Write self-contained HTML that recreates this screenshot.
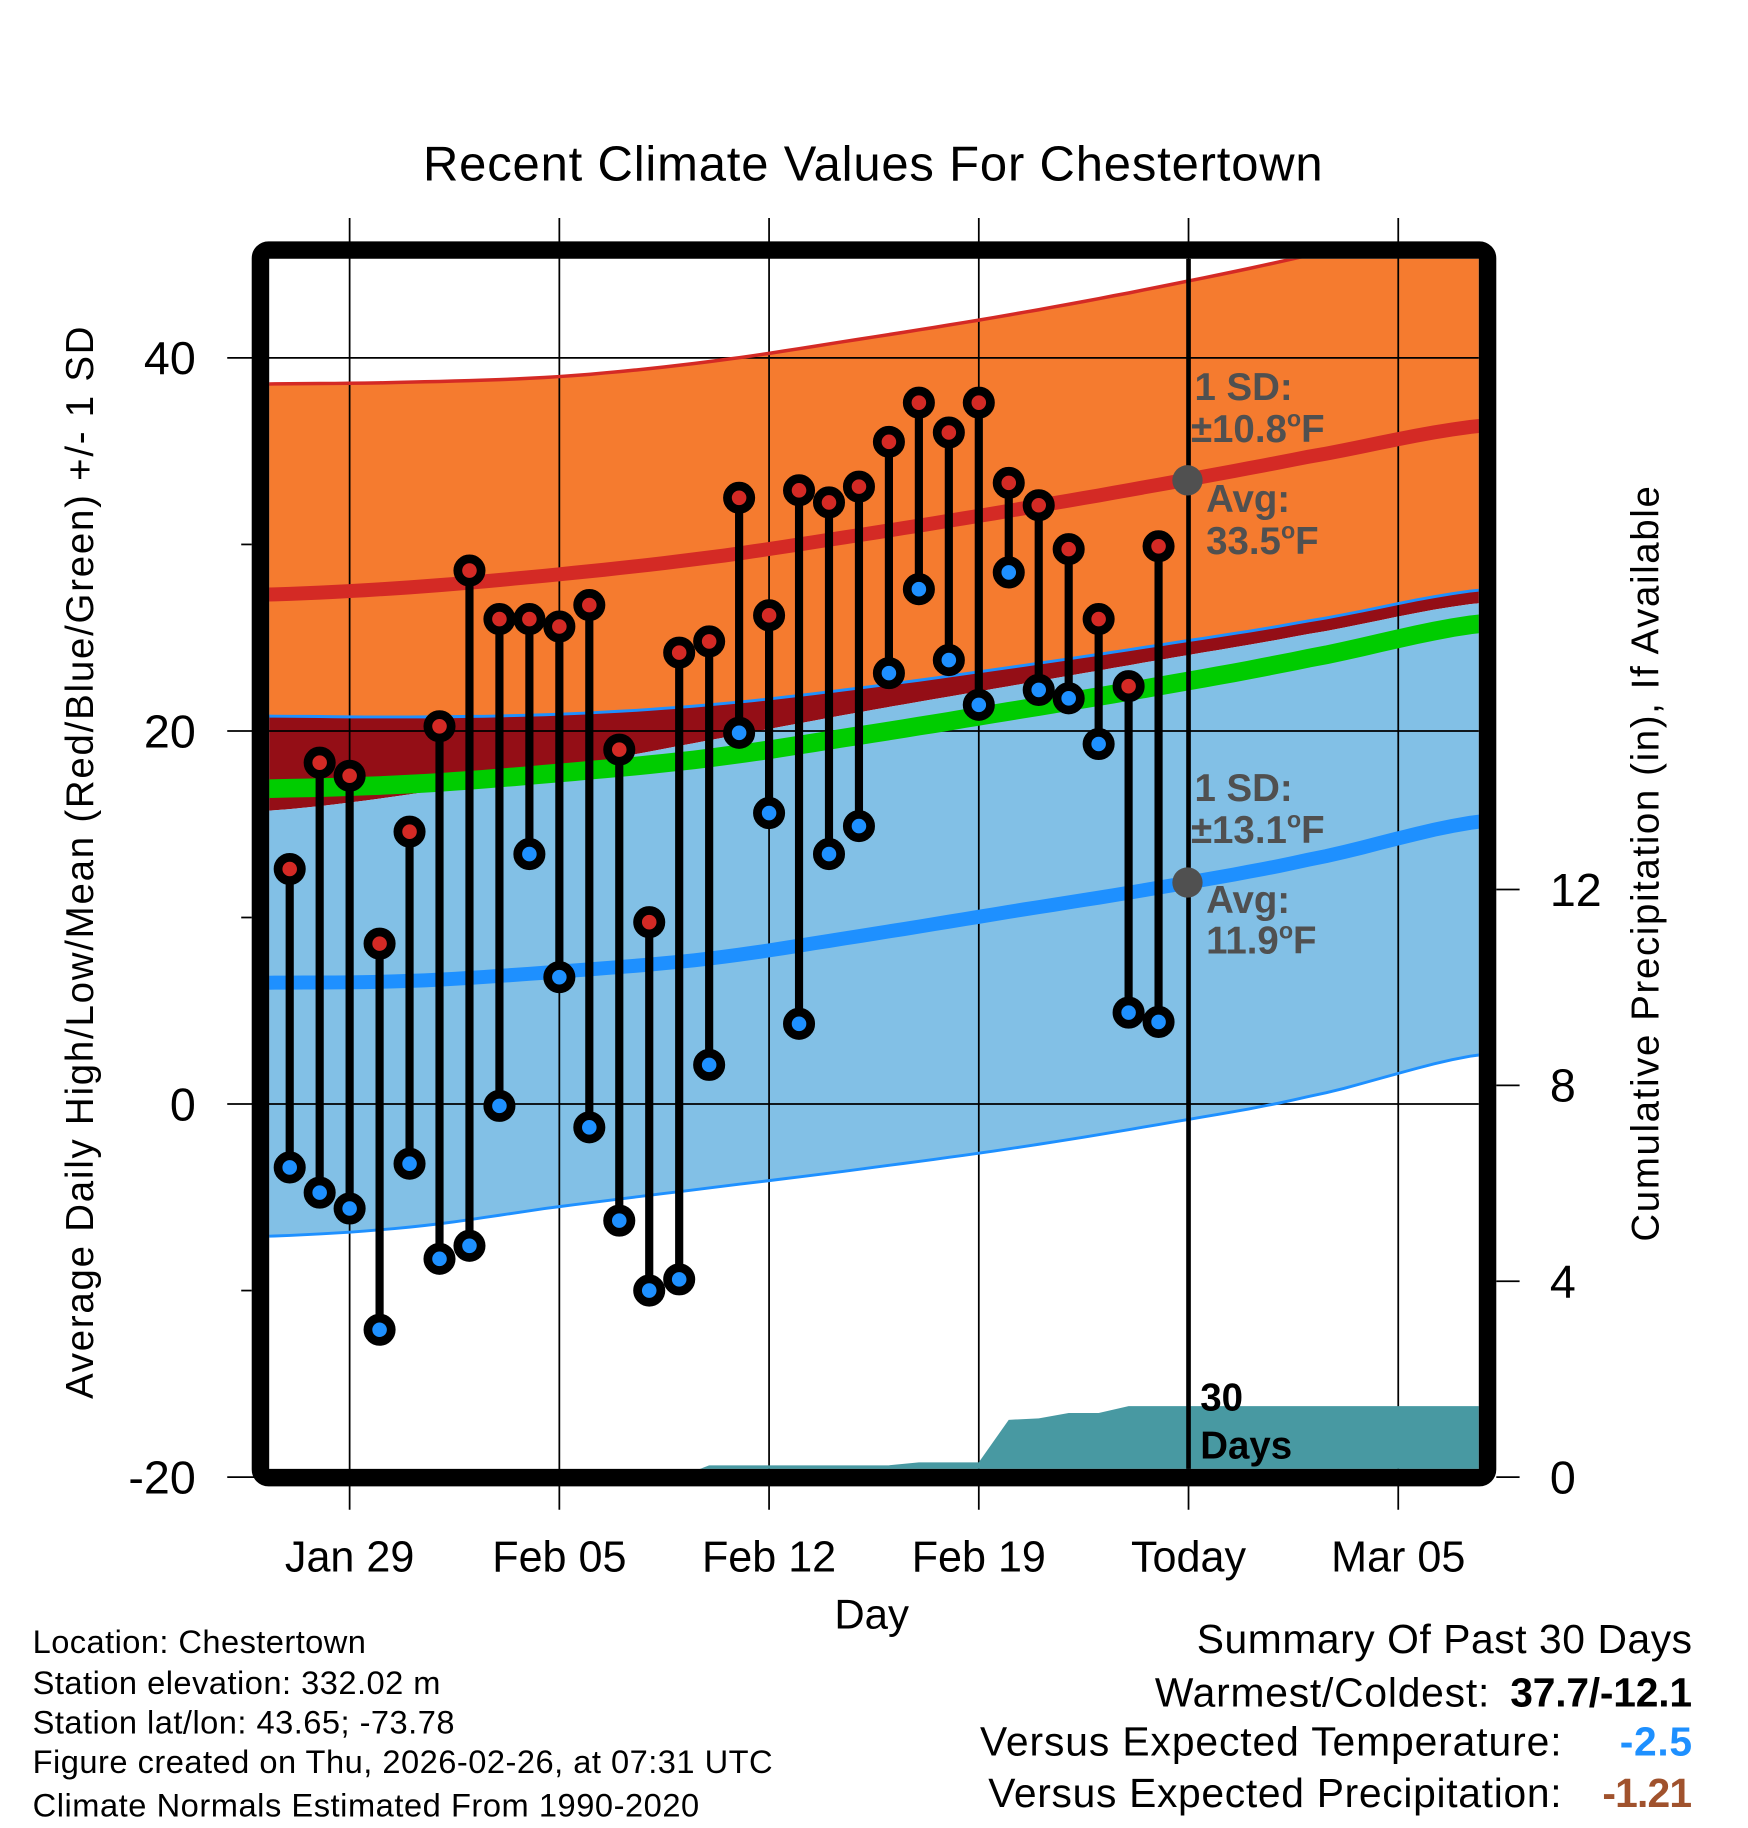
<!DOCTYPE html>
<html><head><meta charset="utf-8"><style>
html,body{margin:0;padding:0;background:#fff;}
svg{display:block;font-family:"Liberation Sans",Arial,sans-serif;}
</style></head><body>
<svg id="chart" width="1748" height="1828" viewBox="0 0 1500 1568" preserveAspectRatio="none" xmlns="http://www.w3.org/2000/svg">
<defs><clipPath id="plotclip"><rect x="231" y="222" width="1038" height="1038"/></clipPath></defs>
<rect width="1500" height="1568" fill="#fff"/>
<text x="749" y="155" font-size="42" text-anchor="middle" textLength="772">Recent Climate Values For Chestertown</text>
<g id="bands" clip-path="url(#plotclip)"></g>
<g id="grid"></g>
<g id="lines" clip-path="url(#plotclip)"></g>
<g id="precip" clip-path="url(#plotclip)"></g>
<g id="marks"></g>
<g id="annot" font-weight="bold" fill="#505050" font-size="33">
<text x="1025" y="343">1 SD:</text>
<text x="1022" y="379">±10.8<tspan font-size="20" dy="-13">o</tspan><tspan dy="13">F</tspan></text>
<circle cx="1019" cy="412" r="13" fill="#505050"/>
<text x="1035" y="439">Avg:</text>
<text x="1035" y="475">33.5<tspan font-size="20" dy="-13">o</tspan><tspan dy="13">F</tspan></text>
<text x="1025" y="687">1 SD:</text>
<text x="1022" y="723">±13.1<tspan font-size="20" dy="-13">o</tspan><tspan dy="13">F</tspan></text>
<circle cx="1019" cy="757" r="13" fill="#505050"/>
<text x="1035" y="783">Avg:</text>
<text x="1035" y="818">11.9<tspan font-size="20" dy="-13">o</tspan><tspan dy="13">F</tspan></text>
</g>
<g font-weight="bold" font-size="33" fill="#000">
<text x="1030" y="1210">30</text>
<text x="1030" y="1251">Days</text>
</g>
<rect x="223.5" y="214.5" width="1053" height="1053" rx="7" fill="none" stroke="#000" stroke-width="15"/>
<g id="axes" font-size="40"></g>
<text transform="translate(80,740) rotate(-90)" font-size="33" text-anchor="middle" textLength="920">Average Daily High/Low/Mean (Red/Blue/Green) +/- 1 SD</text>
<text transform="translate(1423,741) rotate(-90)" font-size="33" text-anchor="middle" textLength="648">Cumulative Precipitation (in), If Available</text>
<text x="748" y="1397" font-size="36" text-anchor="middle">Day</text>
<g font-size="28">
<text x="28" y="1418" textLength="286">Location: Chestertown</text>
<text x="28" y="1453" textLength="350">Station elevation: 332.02 m</text>
<text x="28" y="1487" textLength="362">Station lat/lon: 43.65; -73.78</text>
<text x="28" y="1521" textLength="635">Figure created on Thu, 2026-02-26, at 07:31 UTC</text>
<text x="28" y="1558" textLength="572">Climate Normals Estimated From 1990-2020</text>
</g>
<g font-size="35">
<text x="1027" y="1418" textLength="425">Summary Of Past 30 Days</text>
<text x="991" y="1464" textLength="287">Warmest/Coldest:</text>
<text x="1296" y="1464" font-weight="bold" textLength="156">37.7/-12.1</text>
<text x="841" y="1506" textLength="499">Versus Expected Temperature:</text>
<text x="1390" y="1506" font-weight="bold" fill="#1e90ff" textLength="62">-2.5</text>
<text x="848" y="1550" textLength="492">Versus Expected Precipitation:</text>
<text x="1375" y="1550" font-weight="bold" fill="#a0522d" textLength="77">-1.21</text>
</g>
</svg>
<script>
// daily observations (day index 0 = Jan 27)
const highs = [12.6,18.3,17.6,8.6,14.6,20.25,28.6,26,26,25.6,26.75,19,9.75,24.2,24.8,32.5,26.2,32.9,32.25,33.1,35.5,37.6,36,37.6,33.3,32.1,29.75,26,22.4,29.9];
const lows = [-3.4,-4.75,-5.6,-12.1,-3.2,-8.3,-7.6,-0.1,13.4,6.8,-1.25,-6.25,-10,-9.4,2.1,19.9,15.6,4.3,13.4,14.9,23.1,27.6,23.8,21.4,28.5,22.2,21.75,19.3,4.9,4.4];
const precip = [0,0,0,0,0,0,0,0,0,0,0,0,0,0,0.24,0.24,0.24,0.24,0.24,0.24,0.24,0.3,0.3,0.3,1.17,1.2,1.31,1.31,1.45,1.45];
// climate normals sampled on these day indices
const normDays = [-1,4,9,14,19,24,29,34,40];
const upperSD = [38.6,38.7,39.0,39.8,41.0,42.3,43.8,45.5,47.5];
const avgHigh = [27.3,27.7,28.4,29.3,30.5,31.8,33.2,34.7,36.4];
const highBandBottom = [20.8,20.75,20.9,21.4,22.3,23.4,24.6,25.9,27.6];
const lowBandTop = [15.7,16.6,18.0,19.5,21.0,22.4,23.8,25.2,26.9];
const meanTemp = [16.9,17.15,17.75,18.55,19.75,21.05,22.4,23.9,25.8];
const avgLow = [6.5,6.6,7.1,7.8,9.0,10.3,11.6,13.1,15.2];
const lowSD = [-7.1,-6.6,-5.5,-4.5,-3.5,-2.4,-1.1,0.4,2.7];
const yTicks = [40,20,0,-20];
const yMinor = [30,10,-10];
const pTicks = [0,4,8,12];
const xTickDays = [2,9,16,23,30,37];
const xTickLabels = ["Jan 29","Feb 05","Feb 12","Feb 19","Today","Mar 05"];

const NS="http://www.w3.org/2000/svg";
const X = d => 248.6 + 25.71*d;
const Y = v => 947 - 16*v;
const P = p => 1267 - 42*p;
function mk(tag, attrs, parent){const e=document.createElementNS(NS,tag);for(const k in attrs)e.setAttribute(k,attrs[k]);parent.appendChild(e);return e;}
function curve(arr){
  const n=normDays.length, pts=[];
  for(let i=0;i<n-1;i++){
    const p0=arr[Math.max(i-1,0)],p1=arr[i],p2=arr[i+1],p3=arr[Math.min(i+2,n-1)];
    for(let s=0;s<10;s++){
      const t=s/10;
      const v=0.5*((2*p1)+(-p0+p2)*t+(2*p0-5*p1+4*p2-p3)*t*t+(-p0+3*p1-3*p2+p3)*t*t*t);
      const d=normDays[i]+(normDays[i+1]-normDays[i])*t;
      pts.push([X(d),Y(v)]);
    }
  }
  pts.push([X(normDays[n-1]),Y(arr[n-1])]);
  return pts;
}
function ptsStr(p){return p.map(q=>q[0].toFixed(1)+","+q[1].toFixed(1)).join(" ");}
function band(top,bot,fill,name,parent){
  const p=curve(top).concat(curve(bot).reverse());
  const e=mk('polygon',{points:ptsStr(p),fill:fill},parent);
  
  
}
function line(arr,color,w,name,parent){
  const e=mk('polyline',{points:ptsStr(curve(arr)),fill:'none',stroke:color,'stroke-width':w},parent);
  
  
}
const gB=document.getElementById('bands');
band(upperSD,highBandBottom,'#f57b2f','high-sd-band',gB);
band(highBandBottom,lowBandTop,'#940e16','overlap-band',gB);
band(lowBandTop,lowSD,'#82c0e6','low-sd-band',gB);
const gG=document.getElementById('grid');
yTicks.forEach(v=>{
  const e=mk('line',{x1:195,x2:1269,y1:Y(v),y2:Y(v),stroke:'#000','stroke-width':1.5},gG);
  
  
});
yMinor.forEach(v=>{
  const e=mk('line',{x1:207,x2:216,y1:Y(v),y2:Y(v),stroke:'#000','stroke-width':1.5},gG);
  
  
});
xTickDays.forEach((d,i)=>{
  const e=mk('line',{x1:X(d),x2:X(d),y1:187,y2:1295,stroke:'#000','stroke-width':1.5},gG);
  
  
});
pTicks.forEach(p=>{
  const e=mk('line',{x1:1284,x2:1304,y1:P(p),y2:P(p),stroke:'#000','stroke-width':1.5},gG);
  
  
});
const gL=document.getElementById('lines');
line(upperSD,'#d42a25',3,'high-upper-sd-line',gL);
line(highBandBottom,'#1e90ff',2.5,'low-upper-sd-line',gL);
line(meanTemp,'#00cc00',16,'mean-line',gL);
line(avgHigh,'#d42a25',12,'avg-high-line',gL);
line(avgLow,'#1e90ff',12,'avg-low-line',gL);
line(lowSD,'#1e90ff',2.5,'low-lower-sd-line',gL);
const gP=document.getElementById('precip');
{
  const pts=[[X(0),P(0)]];
  precip.forEach((p,i)=>pts.push([X(i),P(p)]));
  pts.push([1270,P(precip[precip.length-1])]);pts.push([1270,P(0)]);
  const e=mk('polygon',{points:ptsStr(pts),fill:'#4899a2'},gP);
  
  
}
{
  const e=mk('line',{x1:X(30),x2:X(30),y1:222,y2:1262,stroke:'#000','stroke-width':4},gP);
  
  
}
const gM=document.getElementById('marks');
highs.forEach((h,i)=>{
  const x=X(i);
  const s=mk('line',{x1:x,x2:x,y1:Y(h),y2:Y(lows[i]),stroke:'#000','stroke-width':7},gM);
  
  
});
highs.forEach((h,i)=>{
  const x=X(i);
  const a=mk('circle',{cx:x,cy:Y(h),r:10,fill:'#d42a25',stroke:'#000','stroke-width':7.5},gM);
  
  
  const b=mk('circle',{cx:x,cy:Y(lows[i]),r:10,fill:'#1e90ff',stroke:'#000','stroke-width':7.5},gM);
  
  
});
const gA=document.getElementById('axes');
yTicks.forEach(v=>{
  const t=mk('text',{x:168,y:Y(v)+14,'text-anchor':'end'},gA);t.textContent=v;
  
  
});
pTicks.forEach(p=>{
  const t=mk('text',{x:1330,y:P(p)+14},gA);t.textContent=p;
  
  
});
xTickDays.forEach((d,i)=>{
  const t=mk('text',{x:X(d),y:1348,'text-anchor':'middle','font-size':37},gA);t.textContent=xTickLabels[i];
  
  
});
</script>
</body></html>
